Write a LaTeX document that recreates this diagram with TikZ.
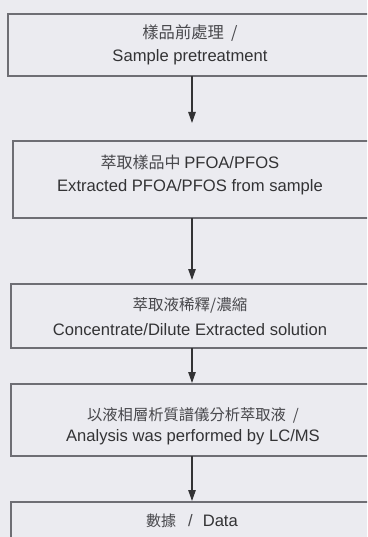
\documentclass[tikz,border=0pt]{standalone}
\usepackage{fontspec}
\setmainfont{Liberation Sans}
\newfontfamily\cjk{Noto Sans CJK TC}
\usetikzlibrary{arrows.meta}
\definecolor{paper}{HTML}{EBEBF0}
\definecolor{boxline}{HTML}{6E6E74}
\definecolor{ink}{HTML}{333335}
\definecolor{cjkink}{HTML}{48484C}
\newcommand{\ensz}{\fontsize{16.6}{19}\selectfont}
\tikzset{
  stepbox/.style={draw=boxline, line width=1.3pt, fill=none},
  arr/.style={draw=ink, line width=1.1pt, -{Triangle[length=11pt,width=7.5pt]}},
  entxt/.style={font=\ensz, text=ink, inner sep=0pt},
  zhtxt/.style={font=\cjk\fontsize{#1}{18}\selectfont, text=cjkink, inner sep=0pt},
  zhtxt/.default=15.5,
}
\begin{document}
\begin{tikzpicture}[x=1pt,y=-1pt]
\fill[paper] (0,0) rectangle (367,537);
\useasboundingbox (0,0) rectangle (367,537);
\clip (0,0) rectangle (367,537);
% boxes
\draw[stepbox] (8,14) rectangle (372,76);
\draw[stepbox] (13,141) rectangle (372,218);
\draw[stepbox] (11,284) rectangle (372,348);
\draw[stepbox] (11,384) rectangle (372,456);
\draw[stepbox] (11,502) rectangle (372,560);
% texts
\node[zhtxt=16.3] (z1) at (190,33) {樣品前處理\ \ /};
\node[entxt] (e1) at (190,57) {Sample pretreatment};
\node[zhtxt=16] (z2) at (190,162) {萃取樣品中 {\rmfamily\ensz\color{ink}PFOA/PFOS}};
\node[entxt] (e2) at (190,187) {Extracted PFOA/PFOS from sample};
\node[zhtxt=15.5] (z3) at (190,305) {萃取液稀釋/濃縮};
\node[entxt] (e3) at (190,330) {Concentrate/Dilute Extracted solution};
\node[zhtxt=15.3] (z4) at (193,415) {以液相層析質譜儀分析萃取液\ \ /};
\node[entxt] (e4) at (193,437) {Analysis was performed by LC/MS};
\node[zhtxt=15] (z5) at (192,521) {數據\hspace{12pt}{\rmfamily\ensz /}\hspace{10pt}{\rmfamily\ensz\color{ink}Data}};
% arrow coordinates
\coordinate (a1s) at (192,76);  \coordinate (a1e) at (192,123);
\coordinate (a2s) at (192,218); \coordinate (a2e) at (192,280);
\coordinate (a3s) at (192,348); \coordinate (a3e) at (192,383);
\coordinate (a4s) at (192,456); \coordinate (a4e) at (192,501);
\draw[arr] (a1s) -- (a1e);
\draw[arr] (a2s) -- (a2e);
\draw[arr] (a3s) -- (a3e);
\draw[arr] (a4s) -- (a4e);
\end{tikzpicture}
\end{document}
